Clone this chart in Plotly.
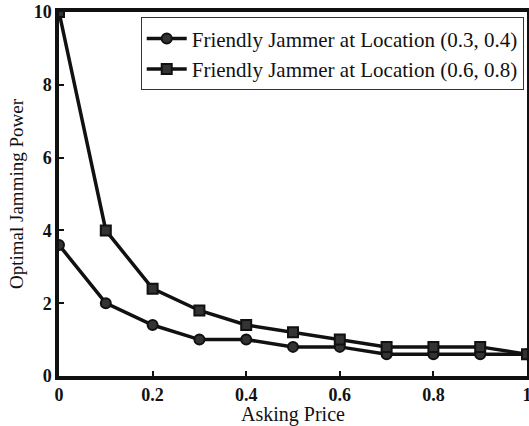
import plotly.graph_objects as go

asking_price = [0, 0.1, 0.2, 0.3, 0.4, 0.5, 0.6, 0.7, 0.8, 0.9, 1.0]
power_loc1 = [3.6, 2.0, 1.4, 1.0, 1.0, 0.8, 0.8, 0.6, 0.6, 0.6, 0.6]
power_loc2 = [10.0, 4.0, 2.4, 1.8, 1.4, 1.2, 1.0, 0.8, 0.8, 0.8, 0.6]
name1 = "Friendly Jammer at Location (0.3, 0.4)"
name2 = "Friendly Jammer at Location (0.6, 0.8)"
x_ticks = [0, 0.2, 0.4, 0.6, 0.8, 1]
x_tick_text = ["0", "0.2", "0.4", "0.6", "0.8", "1"]
y_ticks = [0, 2, 4, 6, 8, 10]

fig = go.Figure()
fig.add_trace(go.Scatter(x=asking_price, y=power_loc1, mode="lines+markers", name=name1,
                         line=dict(color="#111", width=3.5),
                         marker=dict(symbol="circle", size=10, color="#333", line=dict(color="#111", width=2))))
fig.add_trace(go.Scatter(x=asking_price, y=power_loc2, mode="lines+markers", name=name2,
                         line=dict(color="#111", width=3.5),
                         marker=dict(symbol="square", size=10, color="#333", line=dict(color="#111", width=2))))

axis_common = dict(showline=True, linecolor="#111", linewidth=3.5, mirror=True,
                   ticks="inside", ticklen=5, tickwidth=2, tickcolor="#111",
                   showgrid=False, zeroline=False, automargin=False,
                   ticklabeloverflow="allow",
                   tickfont=dict(family="Liberation Serif", size=18, color="#111", weight="bold"))

fig.update_xaxes(range=[0, 1], tickvals=x_ticks, ticktext=x_tick_text, ticklabelstandoff=0,
                 title=dict(text="Asking Price", standoff=0,
                            font=dict(family="Liberation Serif", size=20, color="#111")),
                 **axis_common)
fig.update_yaxes(range=[0, 10], tickvals=y_ticks,
                 title=dict(text="Optimal Jamming Power", standoff=6,
                            font=dict(family="Liberation Serif", size=19, color="#111")),
                 **axis_common)

fig.update_layout(width=529, height=426, plot_bgcolor="white", paper_bgcolor="white",
                  margin=dict(l=59, r=2, t=12, b=50),
                  legend=dict(x=0.993, y=0.985, xanchor="right", yanchor="top",
                              bordercolor="#333", borderwidth=1, bgcolor="white",
                              font=dict(family="Liberation Serif", size=21, color="#111"),
                              itemwidth=40, tracegroupgap=0))

fig.write_html("out.html", config={"displayModeBar": False},
               post_script="document.body.style.margin='0';document.body.style.overflow='hidden';")
